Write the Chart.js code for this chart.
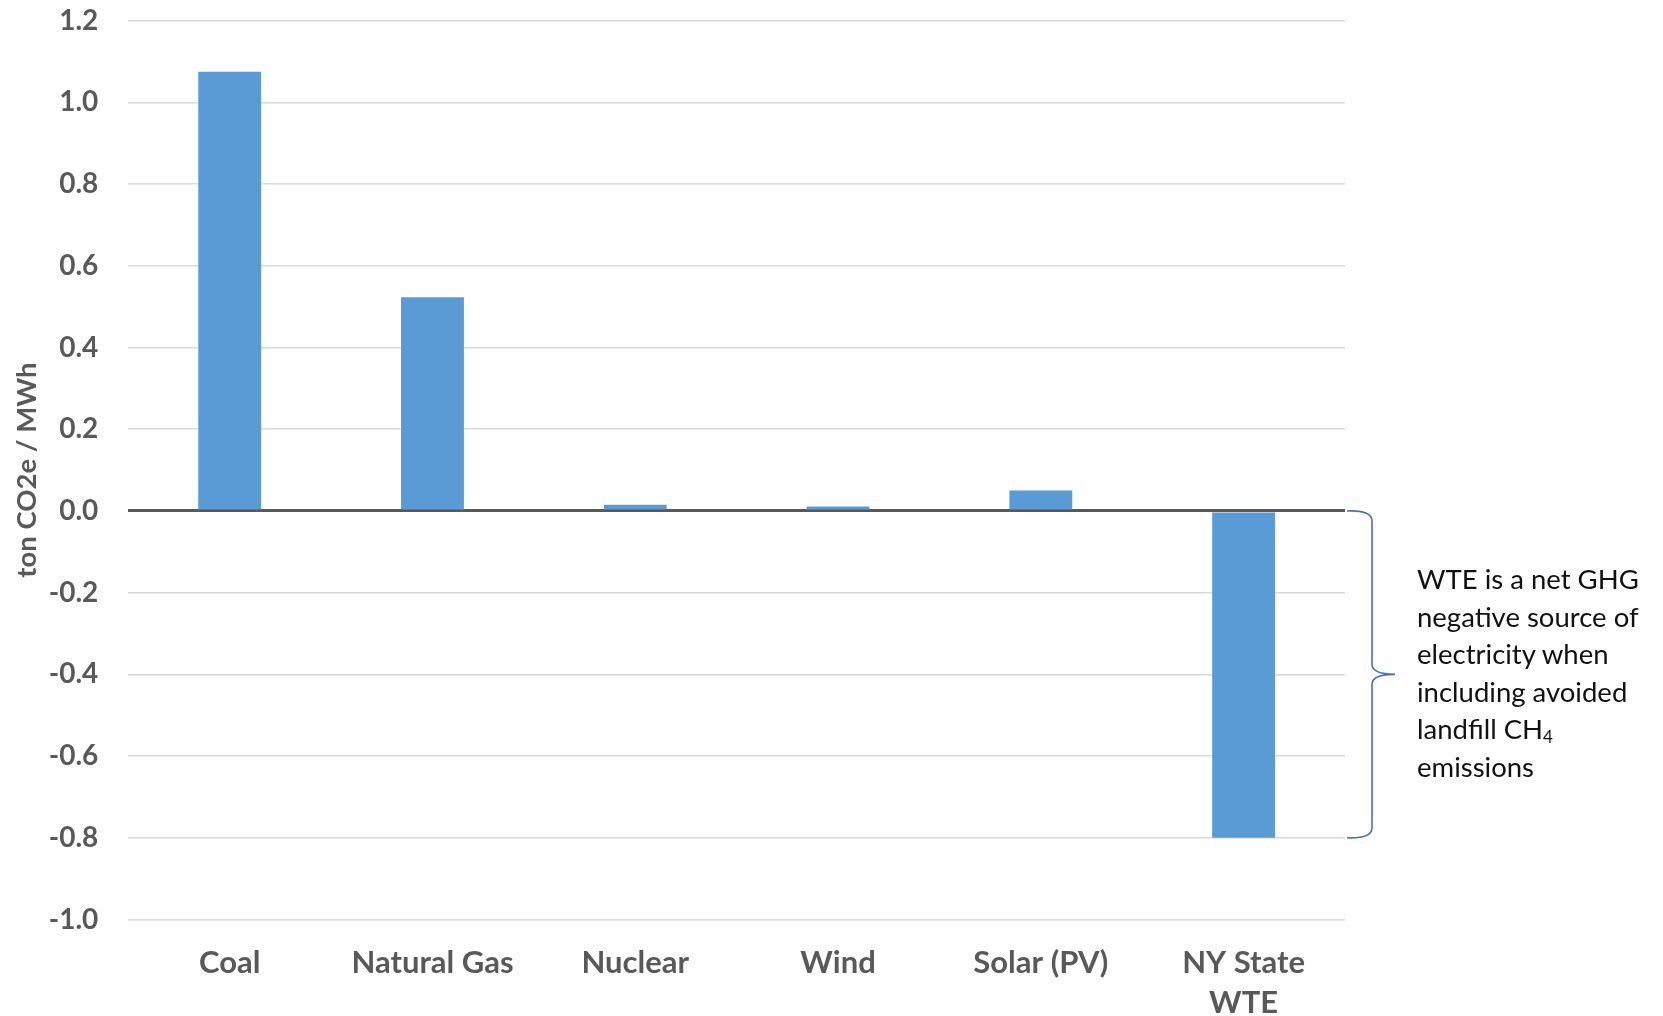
<!DOCTYPE html>
<html>
<head>
<meta charset="utf-8">
<script src="https://cdn.jsdelivr.net/npm/chart.js@4.4.0/dist/chart.umd.min.js"></script>
<style>
  html, body { margin: 0; padding: 0; background: #ffffff; }
  #wrap { position: relative; width: 1663px; height: 1016px; }
  #note {
    position: absolute; left: 1417px; top: 560px; width: 246px;
    font-family: Lato, "Open Sans", sans-serif; font-size: 27.5px; line-height: 37.6px;
    color: #111111; white-space: nowrap;
  }
  #note sub { font-size: 17px; vertical-align: -4px; line-height: 0; }
</style>
</head>
<body>
<div id="wrap">
  <canvas id="c" width="1663" height="1016"></canvas>
  <div id="note">WTE is a net GHG<br>negative source of<br>electricity when<br>including avoided<br>landfill CH<sub>4</sub><br>emissions</div>
</div>
<script>
const categories = ["Coal", "Natural Gas", "Nuclear", "Wind", "Solar (PV)", ["NY State", "WTE"]];
const emissions = [1.075, 0.523, 0.015, 0.011, 0.050, -0.800];
const yTickMin = -1.0;
const yTickMax = 1.2;
const yTickStep = 0.2;
const braceFrom = 0;
const braceTo = -0.8;

const bracePlugin = {
  id: 'brace',
  afterDraw(chart) {
    const ctx = chart.ctx;
    const y = chart.scales.y;
    const x0 = chart.chartArea.right + 2;
    const y0 = y.getPixelForValue(braceFrom);
    const y1 = y.getPixelForValue(braceTo);
    const ym = (y0 + y1) / 2;
    const xv = x0 + 25;
    const xt = x0 + 48;
    const r = 10;
    ctx.save();
    ctx.strokeStyle = '#4472C4';
    ctx.lineWidth = 1.6;
    ctx.beginPath();
    ctx.moveTo(x0, y0);
    ctx.quadraticCurveTo(xv, y0 - 1, xv, y0 + r);
    ctx.lineTo(xv, ym - r);
    ctx.quadraticCurveTo(xv, ym, xt, ym);
    ctx.quadraticCurveTo(xv, ym, xv, ym + r);
    ctx.lineTo(xv, y1 - r);
    ctx.quadraticCurveTo(xv, y1 + 1, x0, y1);
    ctx.stroke();
    ctx.restore();
  }
};

new Chart(document.getElementById('c'), {
  type: 'bar',
  data: {
    labels: categories,
    datasets: [{
      data: emissions,
      backgroundColor: '#5B9BD5',
      borderWidth: 0,
      barPercentage: 0.31,
      categoryPercentage: 1.0
    }]
  },
  options: {
    responsive: false,
    animation: false,
    layout: { padding: { top: 20.7, right: 318, left: 0, bottom: 0 } },
    plugins: { legend: { display: false }, tooltip: { enabled: false } },
    scales: {
      x: {
        grid: { display: false, drawTicks: false },
        border: { display: false },
        ticks: {
          padding: 24,
          color: '#595959',
          maxRotation: 0,
          autoSkip: false,
          font: { family: 'Lato', weight: 'bold', size: 31, lineHeight: 1.27 }
        },
        afterFit(scale) { scale.height = 96.5; }
      },
      y: {
        min: yTickMin,
        max: yTickMax,
        border: { display: false },
        grid: {
          drawTicks: true,
          tickLength: 30,
          tickColor: 'rgba(0,0,0,0)',
          color: ctx => (Math.abs(ctx.tick.value) < 1e-9 ? '#595959' : '#D9D9D9'),
          lineWidth: ctx => (Math.abs(ctx.tick.value) < 1e-9 ? 3 : 1.5)
        },
        ticks: {
          stepSize: yTickStep,
          padding: 0,
          color: '#595959',
          font: { family: 'Lato', weight: 'bold', size: 28 },
          callback: v => (Math.abs(v) < 1e-9 ? 0 : v).toFixed(1)
        },
        title: {
          display: true,
          text: 'ton CO2e / MWh',
          color: '#595959',
          padding: { top: 11, bottom: 0 },
          font: { family: 'Lato', weight: 'bold', size: 27.5, lineHeight: 1.2 }
        },
        afterFit(scale) { scale.width = 128.3; }
      }
    }
  },
  plugins: [bracePlugin]
});
</script>
</body>
</html>
